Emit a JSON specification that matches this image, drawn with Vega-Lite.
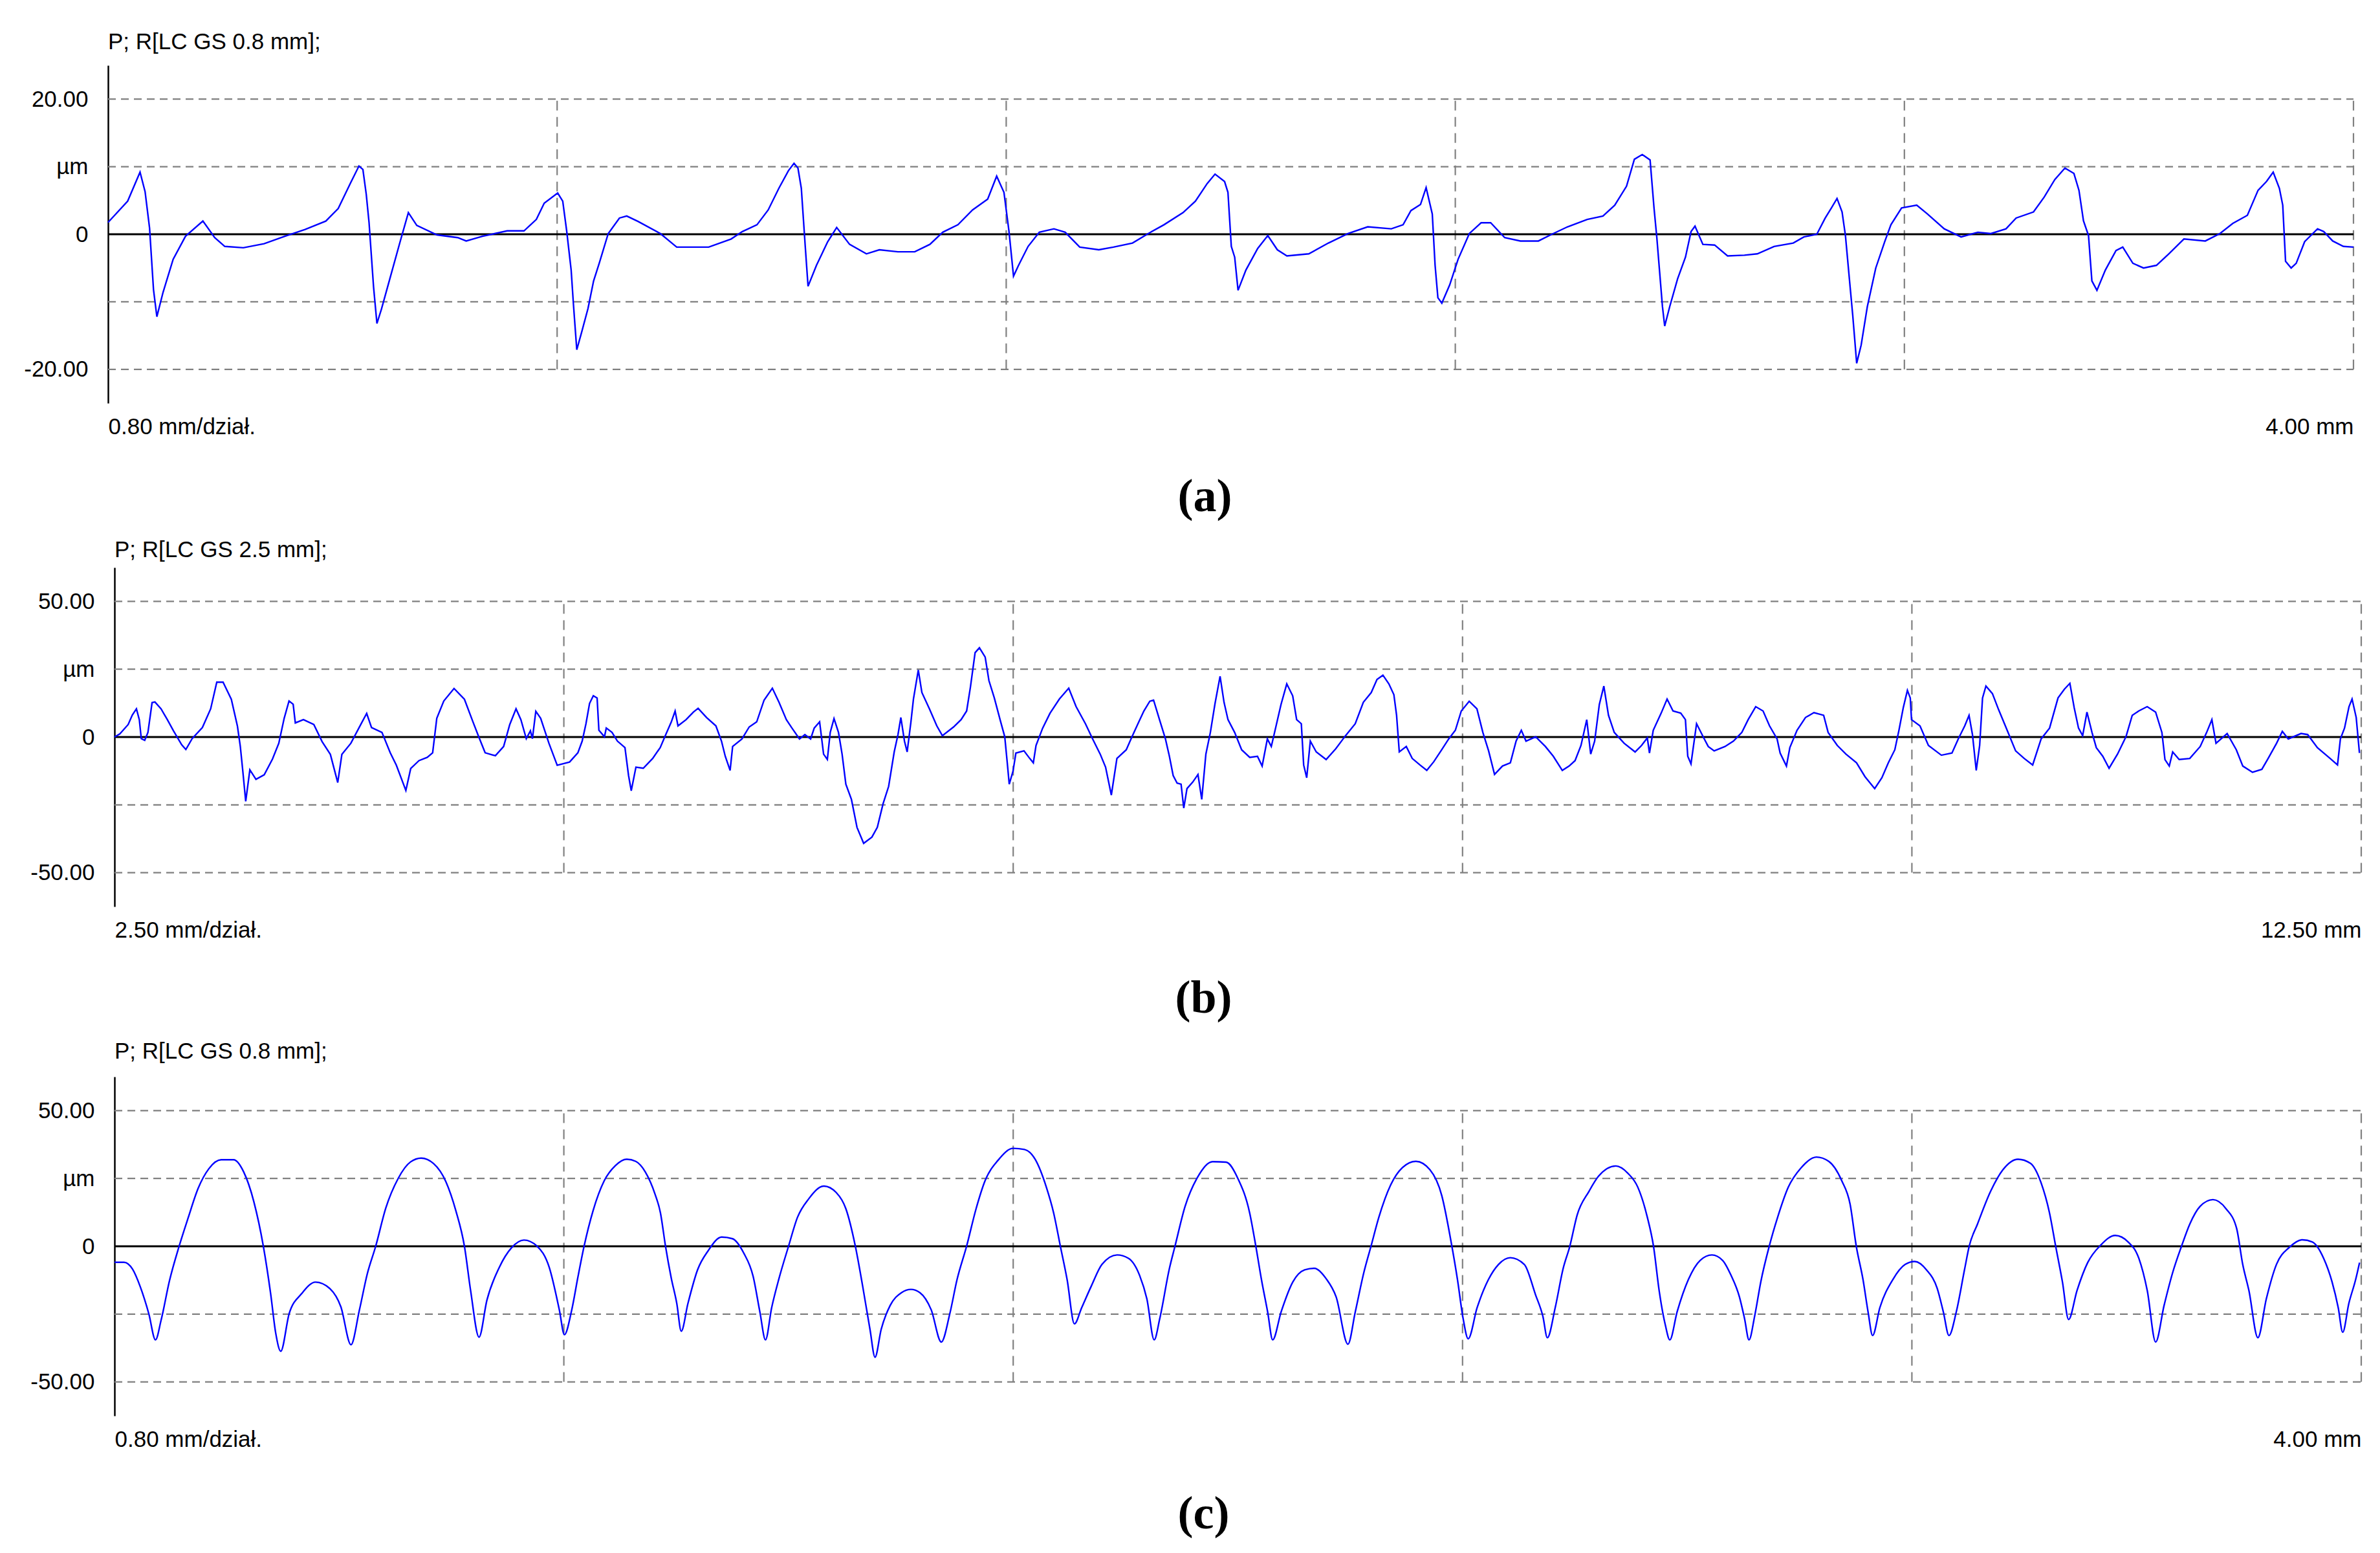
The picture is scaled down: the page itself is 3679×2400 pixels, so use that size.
{
  "$schema": "https://vega.github.io/schema/vega-lite/v6.json",
  "background": "white",
  "padding": {"left": 17, "top": 48, "right": 10, "bottom": 8},
  "spacing": 29,
  "config": {"view": {"stroke": null}},
  "datasets": {
    "profA": [
      {"x":0,"y":1.75},{"x":0.035,"y":4.9},{"x":0.057,"y":9.2},{"x":0.066,"y":6.3},{"x":0.074,"y":0.9},{"x":0.081,"y":-8.2},{"x":0.087,"y":-12.2},{"x":0.098,"y":-8.6},{"x":0.116,"y":-3.7},{"x":0.138,"y":-0.3},{"x":0.169,"y":1.95},{"x":0.19,"y":-0.5},{"x":0.208,"y":-1.8},{"x":0.241,"y":-2.0},{"x":0.278,"y":-1.4},{"x":0.315,"y":-0.3},{"x":0.351,"y":0.7},{"x":0.388,"y":1.95},{"x":0.41,"y":3.8},{"x":0.432,"y":7.6},{"x":0.447,"y":10.1},{"x":0.454,"y":9.6},{"x":0.46,"y":5.9},{"x":0.465,"y":1.7},{"x":0.473,"y":-7.8},{"x":0.479,"y":-13.2},{"x":0.487,"y":-11.1},{"x":0.502,"y":-6.6},{"x":0.52,"y":-1.2},{"x":0.535,"y":3.2},{"x":0.55,"y":1.3},{"x":0.586,"y":-0.1},{"x":0.623,"y":-0.5},{"x":0.638,"y":-1.0},{"x":0.667,"y":-0.3},{"x":0.711,"y":0.5},{"x":0.741,"y":0.5},{"x":0.763,"y":2.2},{"x":0.777,"y":4.6},{"x":0.801,"y":6.1},{"x":0.81,"y":4.9},{"x":0.817,"y":0.5},{"x":0.825,"y":-5.3},{"x":0.829,"y":-10.3},{"x":0.835,"y":-17.1},{"x":0.844,"y":-14.4},{"x":0.855,"y":-11.0},{"x":0.865,"y":-6.9},{"x":0.875,"y":-4.3},{"x":0.891,"y":0.1},{"x":0.911,"y":2.4},{"x":0.924,"y":2.7},{"x":0.944,"y":1.9},{"x":0.984,"y":0.1},{"x":1.013,"y":-1.9},{"x":1.07,"y":-1.9},{"x":1.11,"y":-0.7},{"x":1.13,"y":0.4},{"x":1.156,"y":1.4},{"x":1.176,"y":3.6},{"x":1.195,"y":6.8},{"x":1.212,"y":9.4},{"x":1.222,"y":10.5},{"x":1.229,"y":9.8},{"x":1.235,"y":6.8},{"x":1.242,"y":-1.8},{"x":1.247,"y":-7.7},{"x":1.262,"y":-4.6},{"x":1.282,"y":-1.1},{"x":1.298,"y":1.0},{"x":1.321,"y":-1.5},{"x":1.351,"y":-2.9},{"x":1.374,"y":-2.3},{"x":1.407,"y":-2.6},{"x":1.437,"y":-2.6},{"x":1.464,"y":-1.5},{"x":1.487,"y":0.3},{"x":1.514,"y":1.4},{"x":1.54,"y":3.6},{"x":1.567,"y":5.2},{"x":1.583,"y":8.6},{"x":1.596,"y":6.2},{"x":1.605,"y":0.4},{"x":1.613,"y":-6.2},{"x":1.622,"y":-4.6},{"x":1.639,"y":-1.8},{"x":1.659,"y":0.3},{"x":1.685,"y":0.8},{"x":1.705,"y":0.3},{"x":1.731,"y":-1.9},{"x":1.765,"y":-2.3},{"x":1.791,"y":-1.9},{"x":1.825,"y":-1.3},{"x":1.853,"y":0.1},{"x":1.881,"y":1.4},{"x":1.915,"y":3.2},{"x":1.937,"y":4.9},{"x":1.958,"y":7.5},{"x":1.972,"y":8.9},{"x":1.989,"y":7.8},{"x":1.995,"y":6.2},{"x":2.001,"y":-1.8},{"x":2.007,"y":-3.4},{"x":2.013,"y":-8.3},{"x":2.027,"y":-5.3},{"x":2.048,"y":-2.1},{"x":2.066,"y":-0.2},{"x":2.083,"y":-2.3},{"x":2.1,"y":-3.2},{"x":2.139,"y":-2.9},{"x":2.174,"y":-1.3},{"x":2.209,"y":0.1},{"x":2.244,"y":1.1},{"x":2.286,"y":0.8},{"x":2.307,"y":1.4},{"x":2.321,"y":3.5},{"x":2.338,"y":4.4},{"x":2.348,"y":6.9},{"x":2.359,"y":3.0},{"x":2.364,"y":-4.6},{"x":2.369,"y":-9.4},{"x":2.376,"y":-10.2},{"x":2.39,"y":-7.5},{"x":2.405,"y":-3.7},{"x":2.425,"y":0.1},{"x":2.446,"y":1.7},{"x":2.463,"y":1.7},{"x":2.488,"y":-0.5},{"x":2.516,"y":-1.0},{"x":2.548,"y":-1.0},{"x":2.572,"y":0.0},{"x":2.6,"y":1.1},{"x":2.635,"y":2.2},{"x":2.663,"y":2.7},{"x":2.684,"y":4.3},{"x":2.705,"y":7.1},{"x":2.719,"y":11.1},{"x":2.733,"y":11.8},{"x":2.747,"y":11.0},{"x":2.754,"y":3.9},{"x":2.759,"y":-0.5},{"x":2.764,"y":-5.6},{"x":2.769,"y":-10.7},{"x":2.773,"y":-13.6},{"x":2.782,"y":-10.7},{"x":2.796,"y":-6.6},{"x":2.81,"y":-3.4},{"x":2.82,"y":0.4},{"x":2.827,"y":1.2},{"x":2.841,"y":-1.5},{"x":2.862,"y":-1.6},{"x":2.885,"y":-3.2},{"x":2.915,"y":-3.1},{"x":2.938,"y":-2.9},{"x":2.968,"y":-1.8},{"x":3.002,"y":-1.3},{"x":3.021,"y":-0.4},{"x":3.044,"y":0.0},{"x":3.059,"y":2.4},{"x":3.07,"y":3.9},{"x":3.08,"y":5.3},{"x":3.089,"y":3.3},{"x":3.095,"y":-0.2},{"x":3.102,"y":-6.6},{"x":3.108,"y":-12.0},{"x":3.115,"y":-19.1},{"x":3.123,"y":-16.4},{"x":3.134,"y":-10.7},{"x":3.149,"y":-5.0},{"x":3.165,"y":-1.1},{"x":3.176,"y":1.4},{"x":3.195,"y":3.9},{"x":3.222,"y":4.3},{"x":3.241,"y":3.0},{"x":3.271,"y":0.8},{"x":3.301,"y":-0.4},{"x":3.331,"y":0.3},{"x":3.354,"y":0.1},{"x":3.381,"y":0.8},{"x":3.399,"y":2.4},{"x":3.43,"y":3.3},{"x":3.449,"y":5.5},{"x":3.468,"y":8.1},{"x":3.486,"y":9.8},{"x":3.502,"y":9.0},{"x":3.511,"y":6.5},{"x":3.519,"y":2.0},{"x":3.528,"y":-0.2},{"x":3.534,"y":-6.9},{"x":3.543,"y":-8.3},{"x":3.558,"y":-5.3},{"x":3.577,"y":-2.4},{"x":3.589,"y":-1.9},{"x":3.607,"y":-4.3},{"x":3.626,"y":-5.0},{"x":3.649,"y":-4.6},{"x":3.671,"y":-2.9},{"x":3.698,"y":-0.7},{"x":3.736,"y":-1.0},{"x":3.762,"y":0.1},{"x":3.785,"y":1.6},{"x":3.811,"y":2.8},{"x":3.83,"y":6.5},{"x":3.845,"y":7.8},{"x":3.857,"y":9.2},{"x":3.868,"y":6.8},{"x":3.874,"y":4.3},{"x":3.879,"y":-4.0},{"x":3.889,"y":-5.0},{"x":3.898,"y":-4.3},{"x":3.913,"y":-1.1},{"x":3.936,"y":0.8},{"x":3.947,"y":0.4},{"x":3.963,"y":-1.0},{"x":3.982,"y":-1.8},{"x":4.0,"y":-1.9}
    ],
    "profB": [
      {"x":0,"y":0},{"x":0.03,"y":1.2},{"x":0.076,"y":4.6},{"x":0.099,"y":8.1},{"x":0.122,"y":10.4},{"x":0.138,"y":6.4},{"x":0.149,"y":-0.6},{"x":0.168,"y":-1.2},{"x":0.186,"y":1.7},{"x":0.209,"y":12.7},{"x":0.225,"y":12.9},{"x":0.259,"y":10.4},{"x":0.294,"y":6.4},{"x":0.328,"y":2.3},{"x":0.374,"y":-2.9},{"x":0.397,"y":-4.6},{"x":0.432,"y":-0.6},{"x":0.489,"y":3.5},{"x":0.535,"y":10.4},{"x":0.569,"y":20.2},{"x":0.604,"y":20.2},{"x":0.65,"y":13.9},{"x":0.684,"y":4.0},{"x":0.7,"y":-3.5},{"x":0.714,"y":-12.7},{"x":0.73,"y":-23.7},{"x":0.753,"y":-12.1},{"x":0.787,"y":-15.6},{"x":0.833,"y":-13.9},{"x":0.879,"y":-8.1},{"x":0.914,"y":-2.3},{"x":0.944,"y":6.9},{"x":0.971,"y":13.3},{"x":0.994,"y":12.1},{"x":1.006,"y":5.2},{"x":1.051,"y":6.4},{"x":1.109,"y":4.6},{"x":1.155,"y":-1.7},{"x":1.201,"y":-6.4},{"x":1.242,"y":-16.8},{"x":1.265,"y":-6.4},{"x":1.315,"y":-2.3},{"x":1.361,"y":3.5},{"x":1.403,"y":8.7},{"x":1.43,"y":3.5},{"x":1.488,"y":1.7},{"x":1.534,"y":-5.8},{"x":1.568,"y":-10.4},{"x":1.621,"y":-19.7},{"x":1.648,"y":-11.6},{"x":1.694,"y":-8.7},{"x":1.74,"y":-7.5},{"x":1.77,"y":-5.8},{"x":1.793,"y":6.9},{"x":1.832,"y":13.3},{"x":1.889,"y":17.9},{"x":1.947,"y":13.9},{"x":1.993,"y":5.8},{"x":2.027,"y":0},{"x":2.062,"y":-5.8},{"x":2.119,"y":-6.9},{"x":2.165,"y":-3.5},{"x":2.199,"y":4.6},{"x":2.234,"y":10.4},{"x":2.261,"y":6.4},{"x":2.291,"y":-0.6},{"x":2.314,"y":2.3},{"x":2.325,"y":-0.6},{"x":2.344,"y":9.5},{"x":2.371,"y":6.9},{"x":2.417,"y":-2.3},{"x":2.463,"y":-10.4},{"x":2.532,"y":-9.2},{"x":2.578,"y":-5.8},{"x":2.602,"y":-1.5},{"x":2.623,"y":4.9},{"x":2.643,"y":12.4},{"x":2.664,"y":15.2},{"x":2.685,"y":14.4},{"x":2.695,"y":2.5},{"x":2.726,"y":0.1},{"x":2.736,"y":3.3},{"x":2.768,"y":1.7},{"x":2.798,"y":-1.5},{"x":2.84,"y":-3.9},{"x":2.86,"y":-14.2},{"x":2.875,"y":-19.8},{"x":2.901,"y":-11.1},{"x":2.942,"y":-11.5},{"x":2.994,"y":-7.9},{"x":3.036,"y":-3.9},{"x":3.067,"y":0.9},{"x":3.098,"y":5.6},{"x":3.119,"y":9.6},{"x":3.135,"y":4.1},{"x":3.18,"y":6.4},{"x":3.221,"y":9.2},{"x":3.247,"y":10.6},{"x":3.294,"y":7.2},{"x":3.346,"y":4.1},{"x":3.377,"y":-1.5},{"x":3.398,"y":-7.1},{"x":3.425,"y":-12.3},{"x":3.439,"y":-3.5},{"x":3.491,"y":-0.7},{"x":3.531,"y":3.7},{"x":3.573,"y":5.6},{"x":3.614,"y":13.6},{"x":3.66,"y":18.0},{"x":3.697,"y":12.8},{"x":3.738,"y":6.4},{"x":3.769,"y":3.3},{"x":3.811,"y":-0.7},{"x":3.841,"y":0.9},{"x":3.873,"y":-0.7},{"x":3.893,"y":3.3},{"x":3.923,"y":5.6},{"x":3.945,"y":-6.3},{"x":3.966,"y":-8.3},{"x":3.982,"y":1.7},{"x":4.003,"y":6.8},{"x":4.028,"y":1.7},{"x":4.048,"y":-6.3},{"x":4.069,"y":-17.4},{"x":4.1,"y":-23.0},{"x":4.131,"y":-33.3},{"x":4.168,"y":-39.2},{"x":4.214,"y":-36.9},{"x":4.244,"y":-33.3},{"x":4.276,"y":-24.6},{"x":4.307,"y":-18.2},{"x":4.338,"y":-5.5},{"x":4.359,"y":0.9},{"x":4.375,"y":7.2},{"x":4.395,"y":-1.5},{"x":4.41,"y":-5.5},{"x":4.431,"y":5.6},{"x":4.445,"y":14.0},{"x":4.472,"y":24.7},{"x":4.492,"y":16.4},{"x":4.534,"y":10.4},{"x":4.575,"y":4.1},{"x":4.606,"y":0.5},{"x":4.668,"y":3.7},{"x":4.71,"y":6.4},{"x":4.741,"y":9.6},{"x":4.762,"y":18.4},{"x":4.788,"y":31.1},{"x":4.812,"y":32.9},{"x":4.844,"y":29.5},{"x":4.865,"y":20.8},{"x":4.895,"y":14.4},{"x":4.927,"y":6.4},{"x":4.953,"y":0.1},{"x":4.967,"y":-9.5},{"x":4.978,"y":-17.4},{"x":4.999,"y":-12.6},{"x":5.015,"y":-5.9},{"x":5.06,"y":-5.1},{"x":5.092,"y":-7.9},{"x":5.112,"y":-9.5},{"x":5.127,"y":-3.1},{"x":5.164,"y":3.3},{"x":5.205,"y":8.8},{"x":5.257,"y":14.0},{"x":5.309,"y":18.0},{"x":5.35,"y":11.2},{"x":5.402,"y":4.9},{"x":5.442,"y":-0.7},{"x":5.484,"y":-6.3},{"x":5.514,"y":-11.1},{"x":5.546,"y":-21.4},{"x":5.577,"y":-7.9},{"x":5.629,"y":-4.7},{"x":5.661,"y":0.1},{"x":5.694,"y":4.9},{"x":5.727,"y":9.6},{"x":5.76,"y":13.2},{"x":5.781,"y":13.6},{"x":5.814,"y":6.4},{"x":5.847,"y":-0.7},{"x":5.869,"y":-7.1},{"x":5.89,"y":-14.2},{"x":5.912,"y":-17.0},{"x":5.934,"y":-17.4},{"x":5.949,"y":-26.2},{"x":5.967,"y":-19.0},{"x":5.999,"y":-16.6},{"x":6.028,"y":-13.8},{"x":6.049,"y":-23.0},{"x":6.072,"y":-6.3},{"x":6.097,"y":1.7},{"x":6.123,"y":12.4},{"x":6.151,"y":22.4},{"x":6.173,"y":12.8},{"x":6.195,"y":6.4},{"x":6.232,"y":1.7},{"x":6.271,"y":-4.7},{"x":6.316,"y":-7.5},{"x":6.359,"y":-7.1},{"x":6.385,"y":-10.7},{"x":6.414,"y":-0.7},{"x":6.436,"y":-3.5},{"x":6.457,"y":2.5},{"x":6.49,"y":12.0},{"x":6.522,"y":19.6},{"x":6.555,"y":15.2},{"x":6.577,"y":6.4},{"x":6.603,"y":4.9},{"x":6.616,"y":-10.3},{"x":6.633,"y":-15.0},{"x":6.653,"y":-1.5},{"x":6.686,"y":-5.5},{"x":6.741,"y":-8.3},{"x":6.795,"y":-4.3},{"x":6.849,"y":0.5},{"x":6.903,"y":4.9},{"x":6.948,"y":12.8},{"x":6.992,"y":16.4},{"x":7.024,"y":21.2},{"x":7.057,"y":22.8},{"x":7.09,"y":19.6},{"x":7.118,"y":15.6},{"x":7.133,"y":8.0},{"x":7.148,"y":-5.5},{"x":7.187,"y":-3.5},{"x":7.22,"y":-7.9},{"x":7.263,"y":-10.3},{"x":7.301,"y":-12.3},{"x":7.34,"y":-9.1},{"x":7.384,"y":-4.7},{"x":7.423,"y":-0.7},{"x":7.46,"y":2.5},{"x":7.493,"y":9.6},{"x":7.537,"y":13.2},{"x":7.58,"y":10.4},{"x":7.613,"y":1.7},{"x":7.645,"y":-5.1},{"x":7.678,"y":-13.8},{"x":7.722,"y":-10.7},{"x":7.766,"y":-9.5},{"x":7.798,"y":-1.5},{"x":7.827,"y":2.5},{"x":7.853,"y":-1.5},{"x":7.907,"y":0.1},{"x":7.961,"y":-3.5},{"x":8.005,"y":-7.1},{"x":8.055,"y":-12.3},{"x":8.093,"y":-10.7},{"x":8.126,"y":-8.7},{"x":8.159,"y":-3.1},{"x":8.191,"y":6.4},{"x":8.213,"y":-6.3},{"x":8.235,"y":-1.5},{"x":8.261,"y":12.0},{"x":8.286,"y":18.8},{"x":8.312,"y":8.0},{"x":8.344,"y":1.7},{"x":8.399,"y":-2.3},{"x":8.46,"y":-5.5},{"x":8.496,"y":-3.1},{"x":8.528,"y":-0.3},{"x":8.54,"y":-5.9},{"x":8.561,"y":2.5},{"x":8.605,"y":8.8},{"x":8.638,"y":14.0},{"x":8.671,"y":9.6},{"x":8.714,"y":8.8},{"x":8.74,"y":6.4},{"x":8.753,"y":-7.1},{"x":8.771,"y":-9.9},{"x":8.802,"y":4.9},{"x":8.845,"y":-0.7},{"x":8.867,"y":-3.5},{"x":8.9,"y":-5.1},{"x":8.96,"y":-3.5},{"x":9.007,"y":-1.5},{"x":9.054,"y":1.7},{"x":9.089,"y":6.4},{"x":9.131,"y":11.2},{"x":9.172,"y":9.6},{"x":9.208,"y":4.1},{"x":9.25,"y":-0.7},{"x":9.267,"y":-5.9},{"x":9.302,"y":-10.7},{"x":9.321,"y":-3.9},{"x":9.361,"y":2.5},{"x":9.408,"y":7.2},{"x":9.455,"y":9.0},{"x":9.509,"y":8.0},{"x":9.534,"y":1.7},{"x":9.585,"y":-3.1},{"x":9.633,"y":-6.3},{"x":9.692,"y":-9.5},{"x":9.739,"y":-14.6},{"x":9.793,"y":-19.0},{"x":9.833,"y":-15.0},{"x":9.869,"y":-9.5},{"x":9.905,"y":-4.7},{"x":9.928,"y":2.5},{"x":9.952,"y":10.8},{"x":9.975,"y":17.2},{"x":9.991,"y":14.4},{"x":9.998,"y":6.4},{"x":10.045,"y":4.1},{"x":10.092,"y":-3.1},{"x":10.164,"y":-6.7},{"x":10.223,"y":-5.9},{"x":10.258,"y":-0.7},{"x":10.294,"y":4.1},{"x":10.318,"y":8.0},{"x":10.337,"y":0.9},{"x":10.358,"y":-12.3},{"x":10.377,"y":-3.1},{"x":10.393,"y":14.4},{"x":10.412,"y":18.8},{"x":10.448,"y":16.0},{"x":10.483,"y":10.0},{"x":10.53,"y":2.5},{"x":10.577,"y":-5.1},{"x":10.625,"y":-7.9},{"x":10.672,"y":-10.3},{"x":10.719,"y":-0.7},{"x":10.766,"y":3.3},{"x":10.813,"y":14.4},{"x":10.848,"y":17.6},{"x":10.879,"y":19.8},{"x":10.903,"y":10.8},{"x":10.927,"y":3.3},{"x":10.95,"y":0.5},{"x":10.974,"y":9.2},{"x":11.002,"y":1.7},{"x":11.026,"y":-3.9},{"x":11.062,"y":-7.1},{"x":11.097,"y":-11.5},{"x":11.144,"y":-6.3},{"x":11.191,"y":0.1},{"x":11.226,"y":8.0},{"x":11.262,"y":9.6},{"x":11.309,"y":11.2},{"x":11.356,"y":9.2},{"x":11.391,"y":1.7},{"x":11.408,"y":-8.3},{"x":11.432,"y":-10.7},{"x":11.451,"y":-5.5},{"x":11.487,"y":-8.3},{"x":11.546,"y":-7.9},{"x":11.604,"y":-3.5},{"x":11.64,"y":1.7},{"x":11.669,"y":6.4},{"x":11.692,"y":-2.3},{"x":11.754,"y":1.3},{"x":11.805,"y":-4.7},{"x":11.841,"y":-10.7},{"x":11.895,"y":-13.0},{"x":11.947,"y":-11.9},{"x":11.982,"y":-7.9},{"x":12.029,"y":-2.3},{"x":12.061,"y":2.1},{"x":12.094,"y":-0.7},{"x":12.165,"y":1.3},{"x":12.202,"y":0.9},{"x":12.256,"y":-3.9},{"x":12.327,"y":-7.9},{"x":12.368,"y":-10.3},{"x":12.384,"y":-0.7},{"x":12.407,"y":3.3},{"x":12.432,"y":11.2},{"x":12.449,"y":14.0},{"x":12.472,"y":7.2},{"x":12.49,"y":-5.9}
    ],
    "profC": [
      {"x":0,"y":-5.9},{"x":0.017,"y":-5.9},{"x":0.032,"y":-8.4},{"x":0.046,"y":-15.0},{"x":0.061,"y":-24.8},{"x":0.073,"y":-34.5},{"x":0.083,"y":-27.2},{"x":0.098,"y":-12.6},{"x":0.115,"y":0},{"x":0.131,"y":10.4},{"x":0.149,"y":21.4},{"x":0.168,"y":28.6},{"x":0.19,"y":31.9},{"x":0.212,"y":31.9},{"x":0.23,"y":27.4},{"x":0.248,"y":16.5},{"x":0.265,"y":0},{"x":0.278,"y":-17.5},{"x":0.287,"y":-32.0},{"x":0.296,"y":-38.7},{"x":0.311,"y":-24.8},{"x":0.333,"y":-17.5},{"x":0.358,"y":-13.2},{"x":0.384,"y":-15.7},{"x":0.403,"y":-22.3},{"x":0.421,"y":-36.3},{"x":0.436,"y":-23.5},{"x":0.45,"y":-10.2},{"x":0.465,"y":0},{"x":0.483,"y":14.1},{"x":0.505,"y":25.0},{"x":0.527,"y":31.1},{"x":0.546,"y":32.5},{"x":0.568,"y":30.5},{"x":0.59,"y":23.8},{"x":0.608,"y":12.9},{"x":0.623,"y":0},{"x":0.634,"y":-16.3},{"x":0.649,"y":-33.5},{"x":0.663,"y":-19.9},{"x":0.685,"y":-7.8},{"x":0.707,"y":-0.5},{"x":0.729,"y":2.3},{"x":0.752,"y":0.1},{"x":0.774,"y":-7.8},{"x":0.792,"y":-23.5},{"x":0.801,"y":-32.6},{"x":0.814,"y":-23.5},{"x":0.825,"y":-11.4},{"x":0.836,"y":0},{"x":0.852,"y":13.1},{"x":0.872,"y":24.2},{"x":0.892,"y":29.8},{"x":0.912,"y":32.1},{"x":0.928,"y":31.3},{"x":0.945,"y":27.4},{"x":0.962,"y":19.4},{"x":0.972,"y":12.3},{"x":0.981,"y":0},{"x":0.991,"y":-11.5},{"x":1.001,"y":-21.0},{"x":1.009,"y":-31.3},{"x":1.021,"y":-21.0},{"x":1.038,"y":-8.7},{"x":1.057,"y":-1.6},{"x":1.081,"y":3.4},{"x":1.1,"y":2.8},{"x":1.12,"y":-2.4},{"x":1.137,"y":-11.1},{"x":1.149,"y":-24.2},{"x":1.159,"y":-34.5},{"x":1.17,"y":-22.6},{"x":1.183,"y":-11.9},{"x":1.2,"y":0},{"x":1.216,"y":10.7},{"x":1.236,"y":17.5},{"x":1.263,"y":22.2},{"x":1.285,"y":19.8},{"x":1.302,"y":13.9},{"x":1.319,"y":0},{"x":1.332,"y":-14.7},{"x":1.345,"y":-30.6},{"x":1.354,"y":-40.9},{"x":1.365,"y":-30.6},{"x":1.381,"y":-21.8},{"x":1.401,"y":-17.1},{"x":1.418,"y":-15.9},{"x":1.434,"y":-17.1},{"x":1.454,"y":-23.4},{"x":1.472,"y":-35.3},{"x":1.487,"y":-25.0},{"x":1.5,"y":-12.3},{"x":1.517,"y":0},{"x":1.534,"y":13.9},{"x":1.55,"y":24.2},{"x":1.573,"y":31.7},{"x":1.6,"y":36.1},{"x":1.62,"y":35.7},{"x":1.639,"y":32.1},{"x":1.659,"y":21.8},{"x":1.672,"y":12.3},{"x":1.684,"y":0},{"x":1.696,"y":-12.3},{"x":1.709,"y":-28.6},{"x":1.722,"y":-22.6},{"x":1.739,"y":-14.7},{"x":1.758,"y":-6.7},{"x":1.785,"y":-3.2},{"x":1.805,"y":-4.4},{"x":1.825,"y":-10.7},{"x":1.838,"y":-19.4},{"x":1.851,"y":-34.5},{"x":1.861,"y":-26.6},{"x":1.878,"y":-8.3},{"x":1.888,"y":0},{"x":1.906,"y":14.7},{"x":1.927,"y":25.0},{"x":1.955,"y":31.2},{"x":1.979,"y":31.0},{"x":2.0,"y":25.0},{"x":2.021,"y":12.3},{"x":2.032,"y":0},{"x":2.042,"y":-12.3},{"x":2.053,"y":-24.2},{"x":2.062,"y":-34.5},{"x":2.077,"y":-24.2},{"x":2.098,"y":-13.1},{"x":2.119,"y":-8.7},{"x":2.136,"y":-8.1},{"x":2.157,"y":-11.9},{"x":2.175,"y":-18.7},{"x":2.196,"y":-36.1},{"x":2.209,"y":-24.2},{"x":2.224,"y":-9.9},{"x":2.237,"y":0},{"x":2.251,"y":10.7},{"x":2.272,"y":22.6},{"x":2.293,"y":29.0},{"x":2.317,"y":31.3},{"x":2.342,"y":28.2},{"x":2.363,"y":18.7},{"x":2.38,"y":1.2},{"x":2.391,"y":-12.3},{"x":2.401,"y":-26.6},{"x":2.41,"y":-34.1},{"x":2.426,"y":-22.6},{"x":2.446,"y":-12.3},{"x":2.464,"y":-6.7},{"x":2.485,"y":-4.2},{"x":2.51,"y":-6.7},{"x":2.53,"y":-17.9},{"x":2.543,"y":-25.8},{"x":2.551,"y":-33.7},{"x":2.565,"y":-22.6},{"x":2.579,"y":-8.3},{"x":2.591,"y":0},{"x":2.604,"y":11.5},{"x":2.625,"y":20.2},{"x":2.642,"y":25.8},{"x":2.673,"y":29.6},{"x":2.694,"y":27.0},{"x":2.712,"y":21.8},{"x":2.729,"y":10.7},{"x":2.74,"y":0},{"x":2.75,"y":-16.3},{"x":2.761,"y":-29.0},{"x":2.769,"y":-34.5},{"x":2.782,"y":-24.2},{"x":2.802,"y":-12.3},{"x":2.823,"y":-5.2},{"x":2.844,"y":-3.2},{"x":2.863,"y":-5.2},{"x":2.878,"y":-10.7},{"x":2.893,"y":-18.7},{"x":2.902,"y":-26.6},{"x":2.91,"y":-34.5},{"x":2.92,"y":-25.8},{"x":2.931,"y":-13.1},{"x":2.946,"y":0},{"x":2.961,"y":10.7},{"x":2.98,"y":21.8},{"x":3.003,"y":29.0},{"x":3.03,"y":32.9},{"x":3.052,"y":31.3},{"x":3.075,"y":24.2},{"x":3.09,"y":15.5},{"x":3.101,"y":0},{"x":3.113,"y":-12.3},{"x":3.122,"y":-24.2},{"x":3.13,"y":-32.9},{"x":3.143,"y":-22.6},{"x":3.166,"y":-12.3},{"x":3.188,"y":-6.7},{"x":3.205,"y":-5.6},{"x":3.226,"y":-8.7},{"x":3.245,"y":-15.5},{"x":3.256,"y":-24.2},{"x":3.266,"y":-32.9},{"x":3.279,"y":-24.2},{"x":3.294,"y":-8.3},{"x":3.302,"y":0},{"x":3.317,"y":8.3},{"x":3.34,"y":20.2},{"x":3.362,"y":28.2},{"x":3.389,"y":32.1},{"x":3.411,"y":30.6},{"x":3.43,"y":23.4},{"x":3.445,"y":12.3},{"x":3.456,"y":0},{"x":3.468,"y":-13.1},{"x":3.479,"y":-27.0},{"x":3.494,"y":-16.3},{"x":3.513,"y":-6.0},{"x":3.536,"y":0.4},{"x":3.562,"y":4.0},{"x":3.585,"y":1.6},{"x":3.604,"y":-4.4},{"x":3.619,"y":-16.3},{"x":3.634,"y":-35.3},{"x":3.649,"y":-21.8},{"x":3.664,"y":-9.9},{"x":3.68,"y":0},{"x":3.695,"y":8.3},{"x":3.713,"y":14.7},{"x":3.736,"y":17.2},{"x":3.759,"y":13.9},{"x":3.778,"y":6.7},{"x":3.789,"y":-6.7},{"x":3.8,"y":-16.3},{"x":3.816,"y":-33.7},{"x":3.831,"y":-19.4},{"x":3.849,"y":-6.7},{"x":3.872,"y":-0.4},{"x":3.895,"y":2.4},{"x":3.913,"y":1.6},{"x":3.933,"y":-4.4},{"x":3.948,"y":-13.1},{"x":3.959,"y":-22.6},{"x":3.967,"y":-31.7},{"x":3.978,"y":-21.0},{"x":3.99,"y":-12.3},{"x":3.997,"y":-6.0}
    ]
  },
  "vconcat": [
    {
      "width": 3471, "height": 522,
      "title": {"text": "P; R[LC GS 0.8 mm];", "anchor": "start", "frame": "group", "offset": -10.3, "dx": -10, "baseline": "alphabetic", "font": "Liberation Sans", "fontSize": 35, "fontWeight": "normal", "color": "#000000"},
      "resolve": {"axis": {"x": "independent", "y": "independent"}},
      "layer": [
        {"data": {"values": [{"y":20},{"y":10},{"y":-10},{"y":-20}]},
         "mark": {"type": "rule", "color": "#808080", "strokeWidth": 2.2, "strokeDash": [12, 8]},
         "encoding": {
           "y": {"field": "y", "type": "quantitative", "scale": {"domain": [-25, 25], "nice": false, "zero": false}, "axis": null},
           "x": {"datum": 0, "type": "quantitative", "scale": {"domain": [0, 4], "range": [-10, 3461], "nice": false, "zero": false}, "axis": null},
           "x2": {"datum": 4}}},
        {"data": {"values": [{"x":0.8},{"x":1.6},{"x":2.4},{"x":3.2},{"x":4.0}]},
         "mark": {"type": "rule", "color": "#808080", "strokeWidth": 2.2, "strokeDash": [15, 10]},
         "encoding": {
           "x": {"field": "x", "type": "quantitative", "scale": {"domain": [0, 4], "range": [-10, 3461], "nice": false, "zero": false}, "axis": null},
           "y": {"datum": -20, "type": "quantitative", "scale": {"domain": [-25, 25], "nice": false, "zero": false}, "axis": null},
           "y2": {"datum": 20}}},
        {"data": {"values": [{"y":0}]},
         "mark": {"type": "rule", "color": "#000000", "strokeWidth": 3},
         "encoding": {
           "y": {"field": "y", "type": "quantitative", "scale": {"domain": [-25, 25], "nice": false, "zero": false}, "axis": null},
           "x": {"datum": 0, "type": "quantitative", "scale": {"domain": [0, 4], "range": [-10, 3461], "nice": false, "zero": false}, "axis": null},
           "x2": {"datum": 4}}},
        {"data": {"name": "profA"},
         "mark": {"type": "line", "color": "#0000ff", "strokeWidth": 2.4},
         "encoding": {
           "x": {"field": "x", "type": "quantitative", "scale": {"domain": [0, 4], "range": [-10, 3461], "nice": false, "zero": false},
                 "axis": {"values": [0, 4], "labelExpr": "datum.value == 0 ? '0.80 mm/dział.' : '4.00 mm'", "labelFlush": true, "labelLimit": 0, "grid": false, "ticks": false, "tickSize": 0, "domain": false, "labelPadding": 47, "labelBaseline": "alphabetic", "labelFont": "Liberation Sans", "labelFontSize": 35, "labelColor": "#000000", "labelOverlap": false, "labelBound": false,
                          "title": "(a)", "titleFont": "Liberation Serif", "titleFontSize": 72, "titleFontWeight": "bold", "titleColor": "#000000", "titleX": 1685, "titleY": 166.3, "titleBaseline": "alphabetic", "titleAlign": "center", "titleLimit": 0}},
           "y": {"field": "y", "type": "quantitative", "scale": {"domain": [-25, 25], "nice": false, "zero": false},
                 "axis": {"values": [20, 10, 0, -20], "labelExpr": "datum.value == 20 ? '20.00' : datum.value == 10 ? 'µm' : datum.value == 0 ? '0' : '-20.00'", "title": null, "offset": 10, "grid": false, "ticks": false, "tickSize": 0, "domain": true, "domainColor": "#000000", "domainWidth": 2.5, "labelPadding": 31, "labelFont": "Liberation Sans", "labelFontSize": 35, "labelColor": "#000000", "labelBaseline": "middle", "labelOverlap": false, "labelBound": false, "minExtent": 150}}}}
      ]
    },
    {
      "width": 3473, "height": 524,
      "title": {"text": "P; R[LC GS 2.5 mm];", "anchor": "start", "frame": "group", "offset": -19, "baseline": "alphabetic", "font": "Liberation Sans", "fontSize": 35, "fontWeight": "normal", "color": "#000000"},
      "resolve": {"axis": {"x": "independent", "y": "independent"}},
      "layer": [
        {"data": {"values": [{"y":50},{"y":25},{"y":-25},{"y":-50}]},
         "mark": {"type": "rule", "color": "#808080", "strokeWidth": 2.2, "strokeDash": [12, 8]},
         "encoding": {
           "y": {"field": "y", "type": "quantitative", "scale": {"domain": [-62.5, 62.5], "nice": false, "zero": false}, "axis": null},
           "x": {"datum": 0, "type": "quantitative", "scale": {"domain": [0, 12.5], "nice": false, "zero": false}, "axis": null},
           "x2": {"datum": 12.5}}},
        {"data": {"values": [{"x":2.5},{"x":5},{"x":7.5},{"x":10},{"x":12.5}]},
         "mark": {"type": "rule", "color": "#808080", "strokeWidth": 2.2, "strokeDash": [15, 10]},
         "encoding": {
           "x": {"field": "x", "type": "quantitative", "scale": {"domain": [0, 12.5], "nice": false, "zero": false}, "axis": null},
           "y": {"datum": -50, "type": "quantitative", "scale": {"domain": [-62.5, 62.5], "nice": false, "zero": false}, "axis": null},
           "y2": {"datum": 50}}},
        {"data": {"values": [{"y":0}]},
         "mark": {"type": "rule", "color": "#000000", "strokeWidth": 3},
         "encoding": {
           "y": {"field": "y", "type": "quantitative", "scale": {"domain": [-62.5, 62.5], "nice": false, "zero": false}, "axis": null},
           "x": {"datum": 0, "type": "quantitative", "scale": {"domain": [0, 12.5], "nice": false, "zero": false}, "axis": null},
           "x2": {"datum": 12.5}}},
        {"data": {"name": "profB"},
         "mark": {"type": "line", "color": "#0000ff", "strokeWidth": 2.4},
         "encoding": {
           "x": {"field": "x", "type": "quantitative", "scale": {"domain": [0, 12.5], "nice": false, "zero": false},
                 "axis": {"values": [0, 12.5], "labelExpr": "datum.value == 0 ? '2.50 mm/dział.' : '12.50 mm'", "labelFlush": true, "labelLimit": 0, "grid": false, "ticks": false, "tickSize": 0, "domain": false, "labelPadding": 47, "labelBaseline": "alphabetic", "labelFont": "Liberation Sans", "labelFontSize": 35, "labelColor": "#000000", "labelOverlap": false, "labelBound": false,
                          "title": "(b)", "titleFont": "Liberation Serif", "titleFontSize": 72, "titleFontWeight": "bold", "titleColor": "#000000", "titleX": 1683, "titleY": 163.8, "titleBaseline": "alphabetic", "titleAlign": "center", "titleLimit": 0}},
           "y": {"field": "y", "type": "quantitative", "scale": {"domain": [-62.5, 62.5], "nice": false, "zero": false},
                 "axis": {"values": [50, 25, 0, -50], "labelExpr": "datum.value == 50 ? '50.00' : datum.value == 25 ? 'µm' : datum.value == 0 ? '0' : '-50.00'", "title": null, "grid": false, "ticks": false, "tickSize": 0, "domain": true, "domainColor": "#000000", "domainWidth": 2.5, "labelPadding": 31, "labelFont": "Liberation Sans", "labelFontSize": 35, "labelColor": "#000000", "labelBaseline": "middle", "labelOverlap": false, "labelBound": false, "minExtent": 160}}}}
      ]
    },
    {
      "width": 3473, "height": 524,
      "title": {"text": "P; R[LC GS 0.8 mm];", "anchor": "start", "frame": "group", "offset": -7.3, "baseline": "alphabetic", "font": "Liberation Sans", "fontSize": 35, "fontWeight": "normal", "color": "#000000"},
      "resolve": {"axis": {"x": "independent", "y": "independent"}},
      "layer": [
        {"data": {"values": [{"y":50},{"y":25},{"y":-25},{"y":-50}]},
         "mark": {"type": "rule", "color": "#808080", "strokeWidth": 2.2, "strokeDash": [12, 8]},
         "encoding": {
           "y": {"field": "y", "type": "quantitative", "scale": {"domain": [-62.5, 62.5], "nice": false, "zero": false}, "axis": null},
           "x": {"datum": 0, "type": "quantitative", "scale": {"domain": [0, 4], "nice": false, "zero": false}, "axis": null},
           "x2": {"datum": 4}}},
        {"data": {"values": [{"x":0.8},{"x":1.6},{"x":2.4},{"x":3.2},{"x":4.0}]},
         "mark": {"type": "rule", "color": "#808080", "strokeWidth": 2.2, "strokeDash": [15, 10]},
         "encoding": {
           "x": {"field": "x", "type": "quantitative", "scale": {"domain": [0, 4], "nice": false, "zero": false}, "axis": null},
           "y": {"datum": -50, "type": "quantitative", "scale": {"domain": [-62.5, 62.5], "nice": false, "zero": false}, "axis": null},
           "y2": {"datum": 50}}},
        {"data": {"values": [{"y":0}]},
         "mark": {"type": "rule", "color": "#000000", "strokeWidth": 3},
         "encoding": {
           "y": {"field": "y", "type": "quantitative", "scale": {"domain": [-62.5, 62.5], "nice": false, "zero": false}, "axis": null},
           "x": {"datum": 0, "type": "quantitative", "scale": {"domain": [0, 4], "nice": false, "zero": false}, "axis": null},
           "x2": {"datum": 4}}},
        {"data": {"name": "profC"},
         "mark": {"type": "line", "color": "#0000ff", "strokeWidth": 2.4, "interpolate": "monotone"},
         "encoding": {
           "x": {"field": "x", "type": "quantitative", "scale": {"domain": [0, 4], "nice": false, "zero": false},
                 "axis": {"values": [0, 4], "labelExpr": "datum.value == 0 ? '0.80 mm/dział.' : '4.00 mm'", "labelFlush": true, "labelLimit": 0, "grid": false, "ticks": false, "tickSize": 0, "domain": false, "labelPadding": 47, "labelBaseline": "alphabetic", "labelFont": "Liberation Sans", "labelFontSize": 35, "labelColor": "#000000", "labelOverlap": false, "labelBound": false,
                          "title": "(c)", "titleFont": "Liberation Serif", "titleFontSize": 72, "titleFontWeight": "bold", "titleColor": "#000000", "titleX": 1683, "titleY": 173, "titleBaseline": "alphabetic", "titleAlign": "center", "titleLimit": 0}},
           "y": {"field": "y", "type": "quantitative", "scale": {"domain": [-62.5, 62.5], "nice": false, "zero": false},
                 "axis": {"values": [50, 25, 0, -50], "labelExpr": "datum.value == 50 ? '50.00' : datum.value == 25 ? 'µm' : datum.value == 0 ? '0' : '-50.00'", "title": null, "grid": false, "ticks": false, "tickSize": 0, "domain": true, "domainColor": "#000000", "domainWidth": 2.5, "labelPadding": 31, "labelFont": "Liberation Sans", "labelFontSize": 35, "labelColor": "#000000", "labelBaseline": "middle", "labelOverlap": false, "labelBound": false, "minExtent": 160}}}}
      ]
    }
  ]
}
